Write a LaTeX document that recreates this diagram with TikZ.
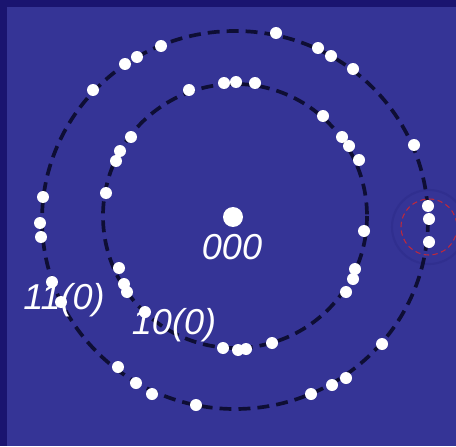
\documentclass[tikz,border=0pt]{standalone}
\usepackage{fontspec}
\setmainfont{Liberation Sans}
\usepackage{tikz}
\usetikzlibrary{positioning}
\definecolor{framecolor}{RGB}{26,20,112}
\definecolor{fieldcolor}{RGB}{53,52,150}
\definecolor{orbitcolor}{RGB}{14,14,52}
\definecolor{markcolor}{RGB}{190,40,60}
\definecolor{halocolor}{RGB}{48,47,143}

\begin{document}
\begin{tikzpicture}[
    x=0.02cm, y=-0.02cm,
    spot/.style={circle, fill=white, inner sep=0pt, minimum size=0.24cm},
    origin/.style={circle, fill=white, inner sep=0pt, minimum size=0.40cm},
    orbit/.style={draw=orbitcolor, line width=2.1pt, dash pattern=on 6.8pt off 4pt},
    ring/.style={draw=markcolor, line width=0.6pt, dash pattern=on 3pt off 2pt},
    halo/.style={draw=halocolor, line width=1.2pt},
    label/.style={text=white, font=\fontsize{20.5}{24}\selectfont\itshape, inner sep=0pt}
]
    % Background
    \useasboundingbox (0,0) rectangle (456,446);
    \fill[framecolor] (0,0) rectangle (456,446);
    \fill[fieldcolor] (7,7) rectangle (456,446);

    % Marked region (halo under the orbit)
    \coordinate (mark) at (429,227);
    \draw[halo] (mark) circle (37);

    % Orbits
    \coordinate (outer) at (235,220);
    \coordinate (inner) at (235,216);
    \draw[orbit] (outer) ellipse (193 and 189);
    \draw[orbit] (inner) circle (132);

    % Origin
    \node[origin] (o000) at (233,217) {};
    \node[label] (l000) at (232,247) {000};

    % Spots on the outer orbit
    \foreach \px/\py [count=\i] in {276/33, 318/48, 331/56, 353/69, 161/46, 137/57, 125/64, 93/90,
        414/145, 43/197, 40/223, 41/237, 52/282, 61/302, 428/206, 429/219, 429/242,
        382/344, 346/378, 332/385, 311/394, 196/405, 152/394, 136/383, 118/367}
        \node[spot] (out\i) at (\px,\py) {};

    % Spots on the inner orbit
    \foreach \px/\py [count=\i] in {189/90, 224/83, 236/82, 255/83, 323/116, 342/137, 349/146, 359/160,
        131/137, 120/151, 116/161, 106/193, 364/231, 355/269, 353/279, 346/292,
        119/268, 124/284, 127/292, 145/312, 223/348, 238/350, 246/349, 272/343}
        \node[spot] (in\i) at (\px,\py) {};

    % Labels
    \node[label] (l110) at (64,300) {11(0)};
    \node[label] (l100) at (174,325) {10(0)};

    % Marked region
    \draw[ring] (mark) circle (28);

\end{tikzpicture}
\end{document}
